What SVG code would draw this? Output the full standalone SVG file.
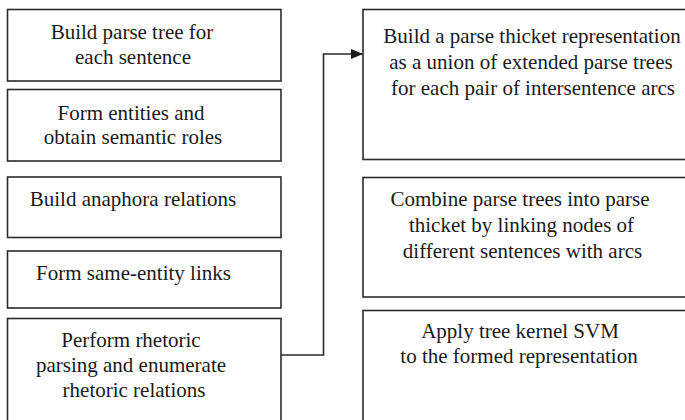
<svg xmlns="http://www.w3.org/2000/svg" width="685" height="420" viewBox="0 0 685 420">
  <style>
    .box { fill: #ffffff; stroke: #2b2b2b; stroke-width: 1.6; }
    text { font-family: 'Liberation Serif', 'DejaVu Serif', serif; font-size: 21px; fill: #1a1a1a; text-anchor: middle; }
    .wire { fill: none; stroke: #2b2b2b; stroke-width: 1.6; }
  </style>
  <defs>
    <marker id="arrow" markerWidth="12" markerHeight="10" refX="12" refY="5" orient="auto" markerUnits="userSpaceOnUse">
      <path d="M0,0 L12,5 L0,10 Z" fill="#1a1a1a"/>
    </marker>
  </defs>
  <rect width="685" height="420" fill="#ffffff"/>

  <g font-family="Liberation Serif, serif" font-size="21">
  <g id="parse-trees">
    <rect class="box" x="7.5" y="9.5" width="273.5" height="71.5"/>
    <text x="132" y="39">Build parse tree for</text>
    <text x="133" y="64">each sentence</text>
  </g>

  <g id="entities">
    <rect class="box" x="7.5" y="89.5" width="273.5" height="71.5"/>
    <text x="131" y="119.5">Form entities and</text>
    <text x="133" y="144">obtain semantic roles</text>
  </g>

  <g id="anaphora">
    <rect class="box" x="7.5" y="177" width="273.5" height="60.5"/>
    <text x="133" y="206">Build anaphora relations</text>
  </g>

  <g id="same-entity">
    <rect class="box" x="7.5" y="251" width="273.5" height="57"/>
    <text x="133.5" y="280">Form same-entity links</text>
  </g>

  <g id="rhetoric">
    <rect class="box" x="7.5" y="318.5" width="273.5" height="120"/>
    <text x="131" y="347">Perform rhetoric</text>
    <text x="131" y="372">parsing and enumerate</text>
    <text x="134" y="397">rhetoric relations</text>
  </g>

  <g id="thicket-representation">
    <rect class="box" x="363" y="9.5" width="340" height="150"/>
    <text x="532" y="43">Build a parse thicket representation</text>
    <text x="531" y="69">as a union of extended parse trees</text>
    <text x="533" y="95">for each pair of intersentence arcs</text>
  </g>

  <g id="combine">
    <rect class="box" x="363" y="177.5" width="340" height="119.5"/>
    <text x="520" y="206">Combine parse trees into parse</text>
    <text x="521.5" y="232">thicket by linking nodes of</text>
    <text x="522.5" y="258">different sentences with arcs</text>
  </g>

  <g id="svm">
    <rect class="box" x="363" y="310.5" width="340" height="130"/>
    <text x="520" y="338">Apply tree kernel SVM</text>
    <text x="519" y="363">to the formed representation</text>
  </g>
  </g>

  <g id="connectors">
    <path class="wire" d="M281,355 H323.5 V54 H363" marker-end="url(#arrow)"/>
  </g>
</svg>
